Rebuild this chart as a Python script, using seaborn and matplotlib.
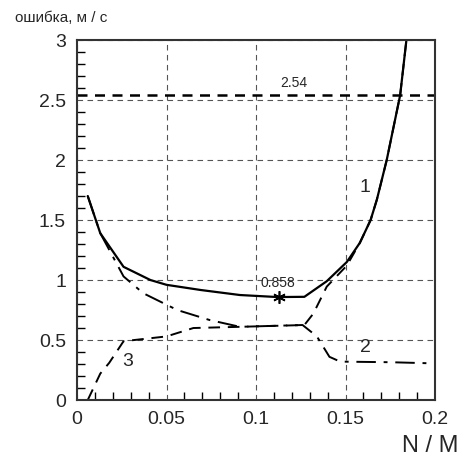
import matplotlib
matplotlib.use('Agg')
import numpy as np
import pandas as pd
import matplotlib.pyplot as plt
import seaborn as sns
from matplotlib.ticker import FixedLocator, FixedFormatter

# curve 1 - total error
x1 = [0.006, 0.013, 0.026, 0.041, 0.050, 0.069, 0.091, 0.112, 0.127, 0.1395, 0.1507, 0.158, 0.164, 0.1675, 0.173, 0.1805, 0.184]
y1 = [1.70, 1.39, 1.11, 1.00, 0.96, 0.917, 0.875, 0.858, 0.86, 0.99, 1.15, 1.31, 1.50, 1.67, 2.00, 2.54, 3.00]

# curve 2
x2 = [0.006, 0.013, 0.026, 0.037, 0.056, 0.074, 0.091, 0.126, 0.134, 0.141, 0.147, 0.175, 0.2]
y2 = [1.70, 1.39, 1.03, 0.89, 0.75, 0.667, 0.61, 0.625, 0.53, 0.36, 0.32, 0.315, 0.305]

# curve 3
x3 = [0.006, 0.013, 0.018, 0.026, 0.050, 0.065, 0.091, 0.127, 0.132, 0.1395, 0.1507, 0.158, 0.164, 0.1675, 0.173, 0.1805, 0.184]
y3 = [0.0, 0.22, 0.31, 0.49, 0.53, 0.60, 0.61, 0.625, 0.72, 0.945, 1.12, 1.31, 1.50, 1.67, 2.00, 2.54, 3.00]

limit = 2.54
x_min, y_min = 0.113, 0.858

x_ticks = [0, 0.05, 0.1, 0.15, 0.2]
x_labels = ['0', '0.05', '0.1', '0.15', '0.2']
y_ticks = [0, 0.5, 1, 1.5, 2, 2.5, 3]
y_labels = ['0', '0.5', '1', '1.5', '2', '2.5', '3']

sns.set_style('ticks')
plt.rcParams['font.family'] = ['Liberation Sans', 'DejaVu Sans']

fig = plt.figure(figsize=(4.65, 4.58), dpi=100)
ax = fig.add_axes([0.1656, 0.1266, 0.77, 0.786])

d1 = pd.DataFrame({'x': x1, 'y': y1})
d2 = pd.DataFrame({'x': x2, 'y': y2})
d3 = pd.DataFrame({'x': x3, 'y': y3})

sns.lineplot(data=d1, x='x', y='y', ax=ax, color='black', lw=1.6, sort=False)
sns.lineplot(data=d2, x='x', y='y', ax=ax, color='black', lw=1.4, sort=False)
ax.lines[-1].set_dashes([10, 4, 2, 4])
sns.lineplot(data=d3, x='x', y='y', ax=ax, color='black', lw=1.4, sort=False)
ax.lines[-1].set_dashes([6, 4])

ax.axhline(limit, color='black', lw=1.8, dashes=(4, 3))
ax.plot([x_min], [y_min], marker=(6, 2, 0), ms=9, color='black', mew=1.2)

ax.text(0.121, 2.58, '2.54', fontsize=10, ha='center', va='bottom')
ax.text(0.112, 0.92, '0.858', fontsize=10, ha='center', va='bottom')
ax.text(0.161, 1.77, '1', fontsize=14, ha='center', va='center')
ax.text(0.161, 0.44, '2', fontsize=14, ha='center', va='center')
ax.text(0.0285, 0.32, '3', fontsize=14, ha='center', va='center')

ax.set_xlabel('')
ax.set_ylabel('')
ax.set_xlim(0, 0.2)
ax.set_ylim(0, 3)
ax.xaxis.set_major_locator(FixedLocator(x_ticks))
ax.xaxis.set_major_formatter(FixedFormatter(x_labels))
ax.yaxis.set_major_locator(FixedLocator(y_ticks))
ax.yaxis.set_major_formatter(FixedFormatter(y_labels))
ax.xaxis.set_minor_locator(FixedLocator(np.arange(0.01, 0.2, 0.01)))
ax.yaxis.set_minor_locator(FixedLocator(np.arange(0.1, 3.0, 0.1)))
ax.tick_params(which='major', direction='in', length=0, pad=8, labelsize=14)
ax.tick_params(which='minor', direction='in', length=6, width=1.0, color='black')
ax.xaxis.grid(True, which='major', color='#555555', lw=0.8, ls=(0, (5, 4)))
ax.yaxis.grid(True, which='major', color='#555555', lw=0.8, ls=(0, (5, 4)))
for s in ax.spines.values():
    s.set_color('#333333')
    s.set_linewidth(1.5)

fig.text(0.985, 0.013, 'N / M', fontsize=17, ha='right', va='baseline')
fig.text(0.032, 0.945, 'ошибка, м / с', fontsize=11, ha='left', va='bottom')

plt.savefig('out.png', dpi=100)
plt.close()
